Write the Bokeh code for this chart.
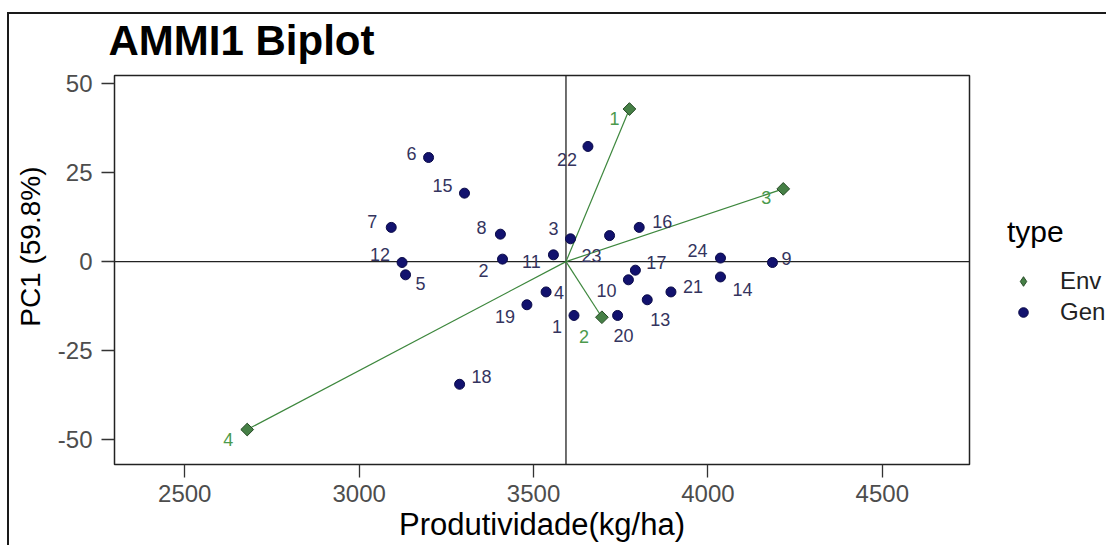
import math
from bokeh.plotting import figure
from bokeh.layouts import row
from bokeh.models import (Span, Legend, LegendItem, ColumnDataSource, Title,
                          FixedTicker, Range1d, PrintfTickFormatter)
from bokeh.embed import file_html
from bokeh.resources import INLINE
from bokeh.core.properties import value

# ---- data ----
gen_names = [str(i) for i in range(1, 25)]
gen_yield = [3616, 3411, 3606, 3536, 3133, 3199, 3092, 3405, 4185, 3772, 3557, 3123,
             3826, 4036, 3302, 3803, 3792, 3288, 3481, 3741, 3894, 3656, 3718, 4036]
gen_pc1 = [-15.1, 0.7, 6.4, -8.5, -3.7, 29.2, 9.6, 7.7, -0.25, -5.1, 1.9, -0.25,
           -10.7, -4.3, 19.2, 9.6, -2.4, -34.4, -12.1, -15.1, -8.5, 32.3, 7.3, 1.0]
env_names = ["1", "2", "3", "4"]
env_yield = [3775, 3696, 4216, 2679]
env_pc1 = [42.8, -15.6, 20.4, -47.1]
grand_mean = 3593
x_ticks = [2500, 3000, 3500, 4000, 4500]
y_ticks = [-50, -25, 0, 25, 50]
legend_labels = ["Env", "Gen"]

# ---- label placement (screen-pixel nudges, like ggrepel) ----
gen_dx = [-17, -19, -17, 13, 15, -17, -19, -19, 14, -22, -22, -22,
          13, 22, -22, 23, 21, 22, -22, 6, 22, -21, -18, -23]
gen_dy = [11, 11, -10, 1, 9, -4, -6, -7, -4, 11, 7, -8,
          20, 13, -8, -6, -8, -8, 12, 20, -5, 13, 20, -8]
env_dx = [-15, -18, -17, -19]
env_dy = [9, 19, 9, 10]

FONT = "Liberation Sans"
GEN_COL = "#12126e"
ENV_COL = "#468046"

gen_src = ColumnDataSource(dict(x=gen_yield, y=gen_pc1, t=gen_names, dx=gen_dx, dy=gen_dy))
env_src = ColumnDataSource(dict(x=env_yield, y=env_pc1, t=env_names, dx=env_dx, dy=env_dy,
                                x0=[grand_mean] * len(env_yield), y0=[0] * len(env_yield)))

H = 533
p = figure(width=962, height=H, output_backend="svg", toolbar_location=None,
           x_range=Range1d(2298.5, 4750), y_range=Range1d(-56.9, 52.2),
           min_border_left=105, min_border_right=2, min_border_top=61,
           min_border_bottom=83)

# main title (outermost) + a small spacer title between it and the panel
p.title = Title(text="AMMI1 Biplot", text_font=FONT, text_font_size="42px",
                text_font_style="bold", text_color="#000000", align="left",
                offset=-6, standoff=0)
p.add_layout(Title(text=" ", text_font=FONT, text_font_size="9px", standoff=0), "above")

p.xgrid.visible = False
p.ygrid.visible = False
p.background_fill_color = "white"
p.border_fill_color = "white"
p.outline_line_color = "#222222"
p.outline_line_width = 1.5

for ax in (p.xaxis[0], p.yaxis[0]):
    ax.axis_line_color = None
    ax.major_tick_in = 0
    ax.major_tick_out = 13
    ax.major_tick_line_color = "#333333"
    ax.major_tick_line_width = 1.3
    ax.minor_tick_line_color = None
    ax.major_label_text_font = FONT
    ax.major_label_text_font_size = "24px"
    ax.major_label_text_color = "#4d4d4d"
    ax.axis_label_text_font = FONT
    ax.axis_label_text_font_style = "normal"
    ax.axis_label_text_color = "#000000"

p.xaxis.axis_label_text_font_size = "31px"
p.yaxis.axis_label_text_font_size = "28px"
p.xaxis.ticker = FixedTicker(ticks=x_ticks)
p.yaxis.ticker = FixedTicker(ticks=y_ticks)
p.yaxis.formatter = PrintfTickFormatter(format="%d")
p.xaxis.axis_label = "Produtividade(kg/ha)"
# non-breaking spaces nudge the rotated title upward, as in the reference
p.yaxis.axis_label = "\u00a0" * 6 + "PC1 (59.8%)"
p.xaxis.major_label_standoff = 7
p.yaxis.major_label_standoff = 9
p.xaxis.axis_label_standoff = 2
p.yaxis.axis_label_standoff = 9

h0 = Span(location=0, dimension="width", line_color="#222222", line_width=1.3, level="underlay")
v0 = Span(location=grand_mean, dimension="height", line_color="#222222", line_width=1.3, level="underlay")
p.add_layout(h0)
p.add_layout(v0)

p.segment(x0="x0", y0="y0", x1="x", y1="y", source=env_src, line_color="#3d873d", line_width=1.2)

env_r = p.scatter(x="x", y="y", source=env_src, marker="square", angle=math.pi / 4,
                  size=9, fill_color=ENV_COL, line_color="#254a25", line_width=1)
gen_r = p.scatter(x="x", y="y", source=gen_src, marker="circle", size=10,
                  fill_color=GEN_COL, line_color="#0a0a48", line_width=1)

p.text(x="x", y="y", text="t", source=gen_src, x_offset="dx", y_offset="dy",
       text_font=value(FONT), text_font_size="18px", text_color="#34345e",
       text_align="center", text_baseline="middle")
p.text(x="x", y="y", text="t", source=env_src, x_offset="dx", y_offset="dy",
       text_font=value(FONT), text_font_size="18px", text_color="#4c9a4c",
       text_align="center", text_baseline="middle")

# ---- legend strip to the right of the panel ----
lf = figure(width=137, height=H, output_backend="svg", toolbar_location=None,
            x_range=Range1d(0, 1), y_range=Range1d(0, 1), min_border=0)
lf.axis.visible = False
lf.xgrid.visible = False
lf.ygrid.visible = False
lf.outline_line_color = None
lf.border_fill_color = "white"
# same sources as the panel; their values lie far outside this strip's 0..1 ranges,
# so only the legend glyphs are seen here
env_l = lf.scatter(x="x", y="y", source=env_src, marker="diamond", size=10,
                   fill_color=ENV_COL, line_color="#254a25", line_width=1)
gen_l = lf.scatter(x="x", y="y", source=gen_src, marker="circle", size=8,
                   fill_color=GEN_COL, line_color="#0a0a48", line_width=1)
legend = Legend(items=[LegendItem(label=legend_labels[0], renderers=[env_l]),
                       LegendItem(label=legend_labels[1], renderers=[gen_l])],
                location=(36, 138), title="type",
                title_text_font=FONT, title_text_font_size="30px", title_text_font_style="normal",
                title_text_color="#000000", title_standoff=18,
                label_text_font=FONT, label_text_font_size="24px", label_text_color="#222222",
                glyph_width=32, glyph_height=24, label_standoff=21, label_height=22,
                spacing=3, padding=0, margin=0, border_line_color=None,
                background_fill_alpha=0)
lf.add_layout(legend)

layout = row(p, lf)
layout.margin = (14, 0, 0, 9)
layout.styles = {"box-shadow": "-2px -2px 0px 0px #1a1a1a"}

open("out.html", "w").write(file_html(layout, INLINE))
